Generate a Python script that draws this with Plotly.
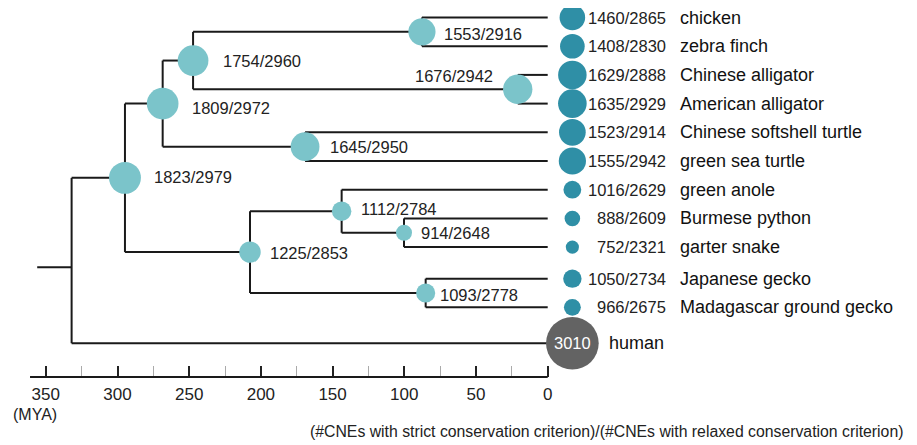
import plotly.graph_objects as go

# ---------------- data ----------------
leaf_names = ["chicken", "zebra finch", "Chinese alligator", "American alligator",
              "Chinese softshell turtle", "green sea turtle", "green anole",
              "Burmese python", "garter snake", "Japanese gecko",
              "Madagascar ground gecko", "human"]
leaf_strict = [1460, 1408, 1629, 1635, 1523, 1555, 1016, 888, 752, 1050, 966, 3010]
leaf_relaxed = [2865, 2830, 2888, 2929, 2914, 2942, 2629, 2609, 2321, 2734, 2675, None]
leaf_rows = [0, 1, 2, 3, 4, 5, 6, 7, 8, 9.1, 10.1, 11.35]

node_names = ["birds", "crocodilians", "archosaurs", "turtles", "archelosaurs",
              "snakes", "toxicofera", "geckos", "squamates", "reptiles", "amniotes"]
node_ages = [87.7, 20.9, 247.3, 169.2, 268.5, 100.2, 143.7, 85.1, 207.6, 294.8, 332.0]
node_children = [["chicken", "zebra finch"],
                 ["Chinese alligator", "American alligator"],
                 ["birds", "crocodilians"],
                 ["Chinese softshell turtle", "green sea turtle"],
                 ["archosaurs", "turtles"],
                 ["Burmese python", "garter snake"],
                 ["green anole", "snakes"],
                 ["Japanese gecko", "Madagascar ground gecko"],
                 ["toxicofera", "geckos"],
                 ["archelosaurs", "squamates"],
                 ["reptiles", "human"]]
node_strict = [1553, 1676, 1754, 1645, 1809, 914, 1112, 1093, 1225, 1823, None]
node_relaxed = [2916, 2942, 2960, 2950, 2972, 2648, 2784, 2778, 2853, 2979, None]
root_row = 8.7
root_stub_age = 356

tick_vals = [0, 50, 100, 150, 200, 250, 300, 350]
tick_text = ["0", "50", "100", "150", "200", "250", "300", "350"]
minor_tick_vals = [25, 75, 125, 175, 225, 275, 325]
axis_start_age = 361

caption = "(#CNEs with strict conservation criterion)/(#CNEs with relaxed conservation criterion)"

# ---------------- style ----------------
FONT = "Liberation Sans, Arial, Helvetica, sans-serif"
LINE_COLOR = "#1a1a1a"
NODE_COLOR = "#7bc4ca"
LEAF_COLOR = "#2f8fa6"
HUMAN_COLOR = "#636363"
DIAM_PER_CNE = 0.0175           # marker diameter (px) per strict CNE
LEAF_DOT_AGE = -17.2            # column of leaf circles
LEAF_NUM_AGE = -83.6            # right edge of leaf counts
LEAF_NAME_AGE = -91.0           # left edge of species names
HUMAN_NAME_AGE = -41.5
# label offsets (px) for internal node labels: xshift, yshift, anchor
label_style = {
    "birds": (20, -1.7, "left"),
    "crocodilians": (-22.7, 13, "right"),
    "archosaurs": (28, 0, "left"),
    "turtles": (22.7, 0, "left"),
    "archelosaurs": (27.3, -4.5, "left"),
    "snakes": (15, 0, "left"),
    "toxicofera": (17.3, 2.7, "left"),
    "geckos": (12.3, -2, "left"),
    "squamates": (18, -0.7, "left"),
    "reptiles": (27, 1, "left"),
}

# ---------------- layout of the tree ----------------
row = dict(zip(leaf_names, leaf_rows))
age = {n: 0.0 for n in leaf_names}
for n, a, ch in zip(node_names, node_ages, node_children):
    age[n] = a
    row[n] = sum(row[c] for c in ch) / len(ch)
row["amniotes"] = root_row

xs, ys = [], []
for n, ch in zip(node_names, node_children):
    rs = [row[c] for c in ch]
    xs += [age[n], age[n], None]
    ys += [min(rs), max(rs), None]
    for c in ch:
        xs += [age[n], age[c], None]
        ys += [row[c], row[c], None]
xs += [root_stub_age, age["amniotes"], None]
ys += [row["amniotes"], row["amniotes"], None]

fig = go.Figure()
fig.add_trace(go.Scatter(x=xs, y=ys, mode="lines",
                         line=dict(color=LINE_COLOR, width=2),
                         hoverinfo="skip", showlegend=False, cliponaxis=False))

sizeref = 1 / DIAM_PER_CNE
int_names = [n for n, s in zip(node_names, node_strict) if s is not None]
int_strict = [s for s in node_strict if s is not None]
fig.add_trace(go.Scatter(x=[age[n] for n in int_names], y=[row[n] for n in int_names],
                         mode="markers",
                         marker=dict(size=int_strict, sizemode="diameter", sizeref=sizeref,
                                     color=NODE_COLOR, opacity=1, line=dict(width=0)),
                         showlegend=False, cliponaxis=False))

leaf_colors = [LEAF_COLOR] * (len(leaf_names) - 1) + [HUMAN_COLOR]
fig.add_trace(go.Scatter(x=[LEAF_DOT_AGE] * len(leaf_names), y=leaf_rows,
                         mode="markers",
                         marker=dict(size=leaf_strict, sizemode="diameter", sizeref=sizeref,
                                     color=leaf_colors, opacity=1, line=dict(width=0)),
                         showlegend=False, cliponaxis=False))

ann = []
for n, s, r in zip(node_names, node_strict, node_relaxed):
    if s is None:
        continue
    dx, dy, anc = label_style[n]
    ann.append(dict(x=age[n], y=row[n], text=f"{s}/{r}", showarrow=False,
                    xanchor=anc, yanchor="middle", xshift=dx, yshift=dy,
                    font=dict(family=FONT, size=16.5, color="#222")))

for name, s, r, rw in zip(leaf_names, leaf_strict, leaf_relaxed, leaf_rows):
    if r is None:
        ann.append(dict(x=LEAF_DOT_AGE, y=rw, text=str(s), showarrow=False,
                        xanchor="center", yanchor="middle",
                        font=dict(family=FONT, size=16.5, color="white")))
        ann.append(dict(x=HUMAN_NAME_AGE, y=rw, text=name, showarrow=False,
                        xanchor="left", yanchor="middle",
                        font=dict(family=FONT, size=18, color="#111")))
    else:
        ann.append(dict(x=LEAF_NUM_AGE, y=rw, text=f"{s}/{r}", showarrow=False,
                        xanchor="right", yanchor="middle",
                        font=dict(family=FONT, size=16.5, color="#222")))
        ann.append(dict(x=LEAF_NAME_AGE, y=rw, text=name, showarrow=False,
                        xanchor="left", yanchor="middle",
                        font=dict(family=FONT, size=18, color="#111")))

ann.append(dict(xref="paper", yref="paper", x=3 / 909, y=-0.1003, text="(MYA)",
                showarrow=False, xanchor="left", yanchor="middle",
                font=dict(family=FONT, size=16, color="#222")))
ann.append(dict(xref="paper", yref="paper", x=897 / 909, y=-0.149, text=caption,
                showarrow=False, xanchor="right", yanchor="middle",
                font=dict(family=FONT, size=15.8, color="#222")))

fig.update_layout(
    width=909, height=437,
    margin=dict(l=0, r=0, t=0, b=68),
    paper_bgcolor="white", plot_bgcolor="white",
    annotations=ann,
    shapes=[dict(type="line", xref="x", yref="paper", x0=axis_start_age, x1=0,
                 y0=0, y1=0, line=dict(color=LINE_COLOR, width=2))],
    xaxis=dict(range=[376.36, -257.53], showgrid=False, zeroline=False, showline=False,
               tickmode="array", tickvals=tick_vals, ticktext=tick_text,
               ticks="inside", ticklen=11, tickwidth=1.5, tickcolor="#222",
               ticklabelstandoff=5,
               tickfont=dict(family=FONT, size=17, color="#222"),
               minor=dict(tickmode="array", tickvals=minor_tick_vals, ticks="inside",
                          ticklen=11, tickwidth=1, tickcolor="#aaaaaa", showgrid=False)),
    yaxis=dict(range=[12.526, -0.331], visible=False, showgrid=False, zeroline=False),
    showlegend=False,
)

fig.write_html("out.html")
